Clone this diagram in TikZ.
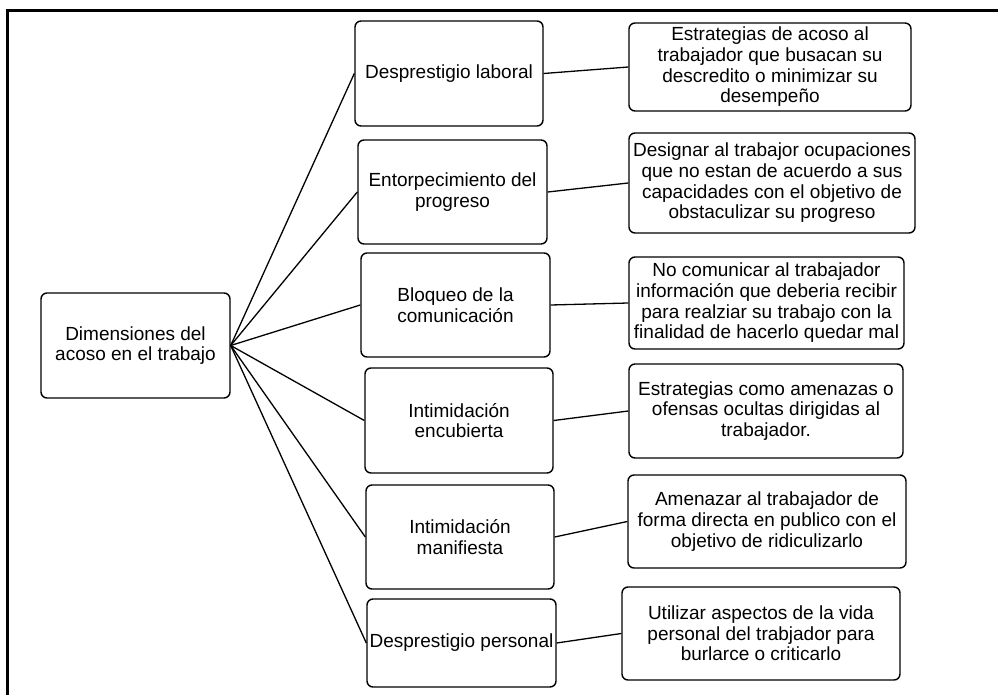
\documentclass[tikz,border=0pt]{standalone}
\usepackage{fontspec}
\setmainfont{Liberation Sans}
\begin{document}
\begin{tikzpicture}[x=1pt,y=-1pt,
  box/.style={draw, line width=1.4pt, rounded corners=6pt, align=center, inner sep=2pt,
    font=\fontsize{19}{20.7}\selectfont},
  link/.style={line width=1.3pt}]
\clip (0,0) rectangle (998,695);
\fill[white] (0,0) rectangle (998,695);
\draw[line width=3pt] (7,720) -- (7,11) -- (1010,11);
% root
\node[box, minimum width=189pt, minimum height=105pt] (root) at (135.5,345.5) {Dimensiones del\\acoso en el trabajo};
% middle
\node[box, minimum width=188pt, minimum height=105pt] (m1) at (449,73.5) {Desprestigio laboral};
\node[box, minimum width=189pt, minimum height=104pt] (m2) at (452.5,192) {Entorpecimiento del\\progreso};
\node[box, minimum width=189pt, minimum height=104pt] (m3) at (455.5,305) {Bloqueo de la\\comunicación};
\node[box, minimum width=188pt, minimum height=105pt] (m4) at (459,420.5) {Intimidación\\encubierta};
\node[box, minimum width=188pt, minimum height=104pt] (m5) at (460,537) {Intimidación\\manifiesta};
\node[box, minimum width=189pt, minimum height=88pt] (m6) at (461.5,643) {Desprestigio personal};
% right
\node[box, minimum width=282pt, minimum height=88pt] (r1) at (770,67) {Estrategias de acoso al\\trabajador que busacan su\\descredito o minimizar su\\desempeño};
\node[box, minimum width=286pt, minimum height=100pt] (r2) at (772,183) {Designar al trabajor ocupaciones\\que no estan de acuerdo a sus\\capacidades con el objetivo de\\obstaculizar su progreso};
\node[box, minimum width=275pt, minimum height=92pt] (r3) at (766.5,303) {No comunicar al trabajador\\información que deberia recibir\\para realziar su trabajo con la\\finalidad de hacerlo quedar mal};
\node[box, minimum width=274pt, minimum height=94pt] (r4) at (766,411) {Estrategias como amenazas o\\ofensas ocultas dirigidas al\\trabajador.};
\node[box, minimum width=278pt, minimum height=93pt] (r5) at (767,521.5) {Amenazar al trabajador de\\forma directa en publico con el\\objetivo de ridiculizarlo};
\node[box, minimum width=278pt, minimum height=93pt] (r6) at (761,633.5) {Utilizar aspectos de la vida\\personal del trabjador para\\burlarce o criticarlo};
% connectors
\foreach \i in {1,...,6}{
  \draw[link] (root.east) -- (m\i.west);
}
\draw[link] (m1.east) -- (r1.west);
\draw[link] (m2.east) -- (r2.west);
\draw[link] (m3.east) -- (r3.west);
\draw[link] (m4.east) -- (r4.west);
\draw[link] (m5.east) -- (r5.west);
\draw[link] (m6.east) -- (r6.west);
\end{tikzpicture}
\end{document}
